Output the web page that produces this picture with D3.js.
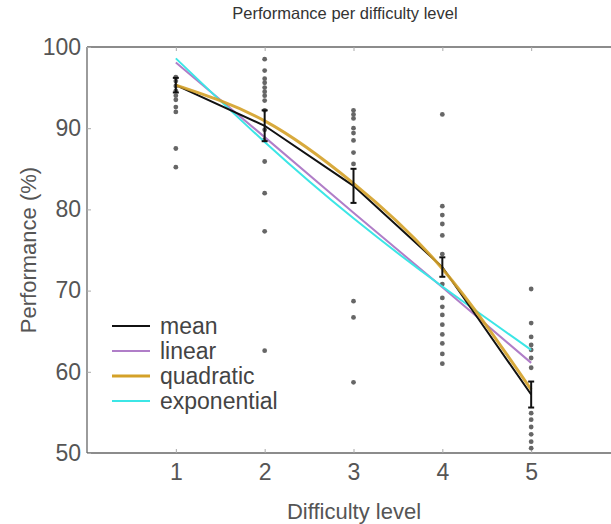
<!DOCTYPE html>
<html>
<head>
<meta charset="utf-8">
<script src="https://cdn.jsdelivr.net/npm/d3@7"></script>
<style>
  body { margin: 0; background: #fff; }
  text { font-family: "Liberation Sans", Arial, sans-serif; }
</style>
</head>
<body>
<svg id="chart" width="611" height="524"></svg>
<script>
// DATA
const levels = [1, 2, 3, 4, 5]
const xTicks = [1, 2, 3, 4, 5]
const yTicks = [50, 60, 70, 80, 90, 100]

// individual scores per level
const scores = [
    [96.3, 95.8, 95.2, 94.6, 94.0, 93.5, 92.6, 92.0, 87.5, 85.2],
    [98.5, 97.1, 96.1, 95.6, 95.0, 94.5, 94.0, 93.4, 92.2, 89.8, 88.6, 85.9, 82.0, 77.3, 62.6],
    [92.2, 91.7, 91.2, 90.0, 89.4, 88.5, 87.0, 85.6, 68.7, 66.7, 58.7],
    [91.7, 80.4, 79.3, 78.2, 76.8, 74.5, 70.8, 69.1, 68.0, 67.0, 65.8, 64.6, 63.5, 62.2, 61.0],
    [70.2, 66.0, 64.3, 63.3, 62.7, 61.7, 60.5, 54.9, 54.1, 53.2, 52.3, 51.4, 50.6]
]
const means = [95.3, 90.3, 82.9, 72.9, 57.2]
const sems = [0.9, 1.9, 2.1, 1.2, 1.6]
const linearFit = [98.1, 88.9, 79.6, 70.4, 61.1]
const quadraticFit = [95.3, 90.9, 83.2, 72.7, 57.8]
const exponentialFit = [98.6, 88.3, 78.9, 70.5, 62.7]

const seriesNames = ['mean', 'linear', 'quadratic', 'exponential']

// LAYOUT
const svg = d3.select('#chart')
const margin = { left: 87, top: 47, bottom: 453 }
const x = d3.scaleLinear().domain([0, 6]).range([margin.left, 620])
const y = d3.scaleLinear().domain([50, 100]).range([margin.bottom, margin.top])

const axisColor = '#666'

// frame (left, bottom, top)
svg.append('line').attr('x1', x(0)).attr('x2', x(0)).attr('y1', y(50)).attr('y2', y(100))
    .attr('stroke', axisColor).attr('stroke-width', 1.3)
svg.append('line').attr('x1', x(0)).attr('x2', 611).attr('y1', y(50)).attr('y2', y(50))
    .attr('stroke', axisColor).attr('stroke-width', 1.3)
svg.append('line').attr('x1', x(0)).attr('x2', 611).attr('y1', y(100)).attr('y2', y(100))
    .attr('stroke', axisColor).attr('stroke-width', 1.3)

// axes with inward ticks
const xAxis = svg.append('g').attr('transform', `translate(0,${y(50)})`)
    .call(d3.axisBottom(x).tickValues(xTicks).tickSize(-4).tickPadding(11).tickFormat(d3.format('d')))
const xAxisTop = svg.append('g').attr('transform', `translate(0,${y(100)})`)
    .call(d3.axisTop(x).tickValues(xTicks).tickSize(-4).tickFormat(''))
const yAxis = svg.append('g').attr('transform', `translate(${x(0)},0)`)
    .call(d3.axisLeft(y).tickValues(yTicks).tickSize(-4).tickPadding(6))

;[xAxis, xAxisTop, yAxis].forEach(g => {
    g.select('.domain').remove()
    g.selectAll('.tick line').attr('stroke', '#aaa')
    g.selectAll('.tick text').attr('fill', '#555').attr('font-size', 23)
        .attr('font-family', '"Liberation Sans", Arial, sans-serif')
})

// scatter points
levels.forEach((lvl, i) => {
    svg.append('g').selectAll('circle')
        .data(scores[i])
        .join('circle')
        .attr('cx', x(lvl))
        .attr('cy', d => y(d))
        .attr('r', 2.4)
        .attr('fill', '#666')
})

// fitted lines
const lineOf = curve => d3.line()
    .x((d, i) => x(levels[i]))
    .y(d => y(d))
    .curve(curve)

const colors = { mean: '#111', linear: '#b07ec8', quadratic: '#d4a128', exponential: '#3ce6e6' }

svg.append('path').datum(linearFit).attr('d', lineOf(d3.curveLinear))
    .attr('fill', 'none').attr('stroke', colors.linear).attr('stroke-width', 2)
svg.append('path').datum(exponentialFit).attr('d', lineOf(d3.curveNatural))
    .attr('fill', 'none').attr('stroke', colors.exponential).attr('stroke-width', 2)
svg.append('path').datum(means).attr('d', lineOf(d3.curveLinear))
    .attr('fill', 'none').attr('stroke', colors.mean).attr('stroke-width', 2)
svg.append('path').datum(quadraticFit).attr('d', lineOf(d3.curveNatural))
    .attr('fill', 'none').attr('stroke', colors.quadratic).attr('stroke-width', 3).attr('stroke-opacity', 0.9)

// error bars
const eb = svg.append('g').attr('stroke', '#111').attr('stroke-width', 2)
levels.forEach((lvl, i) => {
    const top = y(means[i] + sems[i]), bot = y(means[i] - sems[i])
    eb.append('line').attr('x1', x(lvl)).attr('x2', x(lvl)).attr('y1', top).attr('y2', bot)
    eb.append('line').attr('x1', x(lvl) - 3).attr('x2', x(lvl) + 3).attr('y1', top).attr('y2', top)
    eb.append('line').attr('x1', x(lvl) - 3).attr('x2', x(lvl) + 3).attr('y1', bot).attr('y2', bot)
})

// legend
const legend = svg.append('g').attr('transform', 'translate(112,326)')
seriesNames.forEach((name, i) => {
    const row = legend.append('g').attr('transform', `translate(0,${i * 25})`)
    row.append('line').attr('x1', 0).attr('x2', 38).attr('y1', 0).attr('y2', 0)
        .attr('stroke', colors[name]).attr('stroke-width', name === 'quadratic' ? 3 : 2)
    row.append('text').attr('x', 48).attr('y', 0).attr('dy', '0.33em')
        .attr('font-size', 23).attr('fill', '#444').text(name)
})

// titles
svg.append('text').attr('x', 345).attr('y', 19).attr('text-anchor', 'middle')
    .attr('font-size', 16.5).attr('fill', '#333').text('Performance per difficulty level')
svg.append('text').attr('x', 354).attr('y', 519).attr('text-anchor', 'middle')
    .attr('font-size', 22).attr('fill', '#555').text('Difficulty level')
svg.append('text').attr('transform', `translate(36,${(y(50) + y(100)) / 2}) rotate(-90)`)
    .attr('text-anchor', 'middle').attr('font-size', 22).attr('fill', '#555').text('Performance (%)')
</script>
</body>
</html>
